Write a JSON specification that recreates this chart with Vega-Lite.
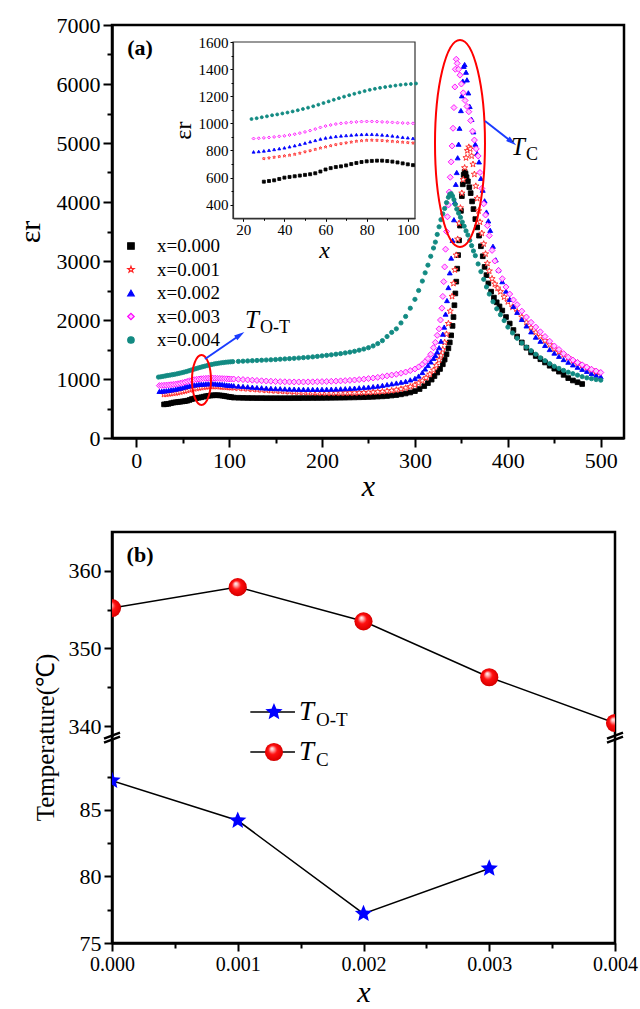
{
"$schema": "https://vega.github.io/schema/vega-lite/v6.json",
"background": "white",
"padding": {"left": 13, "top": 12, "right": 0, "bottom": 0},
"config": {
 "view": {"stroke": "black", "strokeWidth": 2.5},
 "axis": {"labelFont": "Liberation Serif", "titleFont": "Liberation Serif", "labelColor": "black", "titleColor": "black", "domainColor": "black", "tickColor": "black", "grid": false, "domainWidth": 2.5, "tickWidth": 2, "titleFontWeight": "normal", "labelFlush": false},
 "text": {"font": "Liberation Serif", "color": "black"}
},
"datasets": {
"tc": [{"x":0,"v":355.2},{"x":0.001,"v":357.9},{"x":0.002,"v":353.5},{"x":0.003,"v":346.3},{"x":0.004,"v":340.4}],
"tot": [{"x":0,"v":87.2},{"x":0.001,"v":84.2},{"x":0.002,"v":77.2},{"x":0.003,"v":80.6}],
"eps": [
{"s":0,"t":30,"e":570},{"s":0,"t":32.5,"e":575},{"s":0,"t":35,"e":580},{"s":0,"t":37.5,"e":590},{"s":0,"t":40,"e":600},{"s":0,"t":42.5,"e":605},{"s":0,"t":45,"e":610},{"s":0,"t":47.5,"e":615},{"s":0,"t":50,"e":620},{"s":0,"t":52.5,"e":625},{"s":0,"t":55,"e":632},{"s":0,"t":57.5,"e":645},{"s":0,"t":60,"e":660},{"s":0,"t":62.5,"e":670},{"s":0,"t":65,"e":678},{"s":0,"t":67.5,"e":683},{"s":0,"t":70,"e":690},{"s":0,"t":72.5,"e":700},{"s":0,"t":75,"e":708},{"s":0,"t":77.5,"e":715},{"s":0,"t":80,"e":720},{"s":0,"t":82.5,"e":723},{"s":0,"t":85,"e":725},{"s":0,"t":87.5,"e":725},{"s":0,"t":90,"e":722},{"s":0,"t":92.5,"e":718},{"s":0,"t":95,"e":712},{"s":0,"t":97.5,"e":705},{"s":0,"t":100,"e":698},{"s":0,"t":102.5,"e":692},{"s":0,"t":105,"e":685},
{"s":0,"t":110,"e":682},{"s":0,"t":115,"e":680},{"s":0,"t":120,"e":678},{"s":0,"t":125,"e":677},{"s":0,"t":130,"e":676},{"s":0,"t":135,"e":676},{"s":0,"t":140,"e":675},{"s":0,"t":145,"e":675},{"s":0,"t":150,"e":675},{"s":0,"t":155,"e":675},{"s":0,"t":160,"e":675},{"s":0,"t":165,"e":675},{"s":0,"t":170,"e":676},{"s":0,"t":175,"e":676},{"s":0,"t":180,"e":677},{"s":0,"t":185,"e":677},{"s":0,"t":190,"e":678},{"s":0,"t":195,"e":678},{"s":0,"t":200,"e":679},{"s":0,"t":205,"e":680},{"s":0,"t":210,"e":681},{"s":0,"t":215,"e":682},{"s":0,"t":220,"e":683},{"s":0,"t":225,"e":684},{"s":0,"t":230,"e":686},{"s":0,"t":235,"e":688},{"s":0,"t":240,"e":690},{"s":0,"t":245,"e":692},{"s":0,"t":250,"e":695},{"s":0,"t":255,"e":698},{"s":0,"t":260,"e":702},{"s":0,"t":265,"e":706},{"s":0,"t":270,"e":712},{"s":0,"t":275,"e":720},{"s":0,"t":280,"e":728},{"s":0,"t":285,"e":740},{"s":0,"t":290,"e":755},{"s":0,"t":295,"e":772},{"s":0,"t":300,"e":795},{"s":0,"t":305,"e":830},{"s":0,"t":310,"e":880},{"s":0,"t":314,"e":930},{"s":0,"t":318,"e":990},{"s":0,"t":321,"e":1050},{"s":0,"t":324,"e":1110},{"s":0,"t":327,"e":1170},{"s":0,"t":330,"e":1250},{"s":0,"t":332,"e":1330},{"s":0,"t":334,"e":1420},{"s":0,"t":336,"e":1520},{"s":0,"t":337.5,"e":1620},{"s":0,"t":339,"e":1740},{"s":0,"t":340.5,"e":1900},{"s":0,"t":341.5,"e":2050},{"s":0,"t":342.5,"e":2250},{"s":0,"t":343.5,"e":2450},{"s":0,"t":344.5,"e":2650},{"s":0,"t":345.5,"e":2870},{"s":0,"t":346.5,"e":3100},{"s":0,"t":347.5,"e":3350},{"s":0,"t":348.5,"e":3600},{"s":0,"t":349.5,"e":3850},{"s":0,"t":350.5,"e":4100},{"s":0,"t":351.5,"e":4300},{"s":0,"t":352.5,"e":4460},{"s":0,"t":353.5,"e":4510},{"s":0,"t":354.5,"e":4480},{"s":0,"t":355.5,"e":4420},{"s":0,"t":357,"e":4350},{"s":0,"t":358.5,"e":4250},{"s":0,"t":360,"e":4150},{"s":0,"t":361.5,"e":4010},{"s":0,"t":363,"e":3880},{"s":0,"t":365,"e":3710},{"s":0,"t":367,"e":3570},{"s":0,"t":369,"e":3430},{"s":0,"t":371,"e":3250},{"s":0,"t":373,"e":3080},{"s":0,"t":375,"e":2900},{"s":0,"t":377,"e":2760},{"s":0,"t":379,"e":2620},{"s":0,"t":382,"e":2480},{"s":0,"t":385,"e":2380},{"s":0,"t":388,"e":2300},{"s":0,"t":391,"e":2230},{"s":0,"t":394,"e":2160},{"s":0,"t":398,"e":2050},{"s":0,"t":402,"e":1940},{"s":0,"t":406,"e":1830},{"s":0,"t":410,"e":1720},{"s":0,"t":415,"e":1620},{"s":0,"t":420,"e":1530},{"s":0,"t":425,"e":1450},{"s":0,"t":430,"e":1390},{"s":0,"t":435,"e":1335},{"s":0,"t":440,"e":1280},{"s":0,"t":445,"e":1225},{"s":0,"t":450,"e":1175},{"s":0,"t":455,"e":1125},{"s":0,"t":460,"e":1070},{"s":0,"t":465,"e":1015},{"s":0,"t":470,"e":975},{"s":0,"t":475,"e":945},{"s":0,"t":480,"e":915},
{"s":1,"t":30,"e":740},{"s":1,"t":32.5,"e":745},{"s":1,"t":35,"e":750},{"s":1,"t":37.5,"e":755},{"s":1,"t":40,"e":760},{"s":1,"t":42.5,"e":765},{"s":1,"t":45,"e":772},{"s":1,"t":47.5,"e":780},{"s":1,"t":50,"e":790},{"s":1,"t":52.5,"e":798},{"s":1,"t":55,"e":808},{"s":1,"t":57.5,"e":818},{"s":1,"t":60,"e":826},{"s":1,"t":62.5,"e":835},{"s":1,"t":65,"e":843},{"s":1,"t":67.5,"e":850},{"s":1,"t":70,"e":856},{"s":1,"t":72.5,"e":862},{"s":1,"t":75,"e":868},{"s":1,"t":77.5,"e":872},{"s":1,"t":80,"e":875},{"s":1,"t":82.5,"e":876},{"s":1,"t":85,"e":875},{"s":1,"t":87.5,"e":873},{"s":1,"t":90,"e":870},{"s":1,"t":92.5,"e":867},{"s":1,"t":95,"e":864},{"s":1,"t":97.5,"e":861},{"s":1,"t":100,"e":858},{"s":1,"t":102.5,"e":855},{"s":1,"t":105,"e":852},
{"s":1,"t":110,"e":846},{"s":1,"t":115,"e":840},{"s":1,"t":120,"e":834},{"s":1,"t":125,"e":828},{"s":1,"t":130,"e":822},{"s":1,"t":135,"e":816},{"s":1,"t":140,"e":810},{"s":1,"t":145,"e":805},{"s":1,"t":150,"e":800},{"s":1,"t":155,"e":795},{"s":1,"t":160,"e":790},{"s":1,"t":165,"e":786},{"s":1,"t":170,"e":782},{"s":1,"t":175,"e":778},{"s":1,"t":180,"e":775},{"s":1,"t":185,"e":772},{"s":1,"t":190,"e":770},{"s":1,"t":195,"e":768},{"s":1,"t":200,"e":766},{"s":1,"t":205,"e":765},{"s":1,"t":210,"e":764},{"s":1,"t":215,"e":763},{"s":1,"t":220,"e":763},{"s":1,"t":225,"e":763},{"s":1,"t":230,"e":764},{"s":1,"t":235,"e":765},{"s":1,"t":240,"e":767},{"s":1,"t":245,"e":770},{"s":1,"t":250,"e":773},{"s":1,"t":255,"e":777},{"s":1,"t":260,"e":782},{"s":1,"t":265,"e":788},{"s":1,"t":270,"e":795},{"s":1,"t":275,"e":804},{"s":1,"t":280,"e":815},{"s":1,"t":285,"e":830},{"s":1,"t":290,"e":848},{"s":1,"t":295,"e":870},{"s":1,"t":300,"e":898},{"s":1,"t":304,"e":930},{"s":1,"t":308,"e":970},{"s":1,"t":312,"e":1020},{"s":1,"t":316,"e":1080},{"s":1,"t":320,"e":1150},{"s":1,"t":323,"e":1230},{"s":1,"t":326,"e":1320},{"s":1,"t":328,"e":1400},{"s":1,"t":330,"e":1500},{"s":1,"t":332,"e":1620},{"s":1,"t":334,"e":1760},{"s":1,"t":336,"e":1940},{"s":1,"t":338,"e":2150},{"s":1,"t":340,"e":2400},{"s":1,"t":341.5,"e":2620},{"s":1,"t":343,"e":2850},{"s":1,"t":344.5,"e":3100},{"s":1,"t":346,"e":3370},{"s":1,"t":347.5,"e":3640},{"s":1,"t":349,"e":3900},{"s":1,"t":350.5,"e":4150},{"s":1,"t":352,"e":4380},{"s":1,"t":353.5,"e":4580},{"s":1,"t":355,"e":4750},{"s":1,"t":356.5,"e":4870},{"s":1,"t":358,"e":4930},{"s":1,"t":359.5,"e":4900},{"s":1,"t":361,"e":4780},{"s":1,"t":362.5,"e":4640},{"s":1,"t":364,"e":4470},{"s":1,"t":365.5,"e":4270},{"s":1,"t":367,"e":4060},{"s":1,"t":368.5,"e":3850},{"s":1,"t":370,"e":3660},{"s":1,"t":372,"e":3470},{"s":1,"t":374,"e":3290},{"s":1,"t":376,"e":3120},{"s":1,"t":378,"e":2960},{"s":1,"t":380,"e":2830},{"s":1,"t":383,"e":2700},{"s":1,"t":386,"e":2610},{"s":1,"t":389,"e":2540},{"s":1,"t":392,"e":2480},{"s":1,"t":396,"e":2390},{"s":1,"t":400,"e":2310},{"s":1,"t":405,"e":2220},{"s":1,"t":410,"e":2140},{"s":1,"t":415,"e":2050},{"s":1,"t":420,"e":1960},{"s":1,"t":425,"e":1870},{"s":1,"t":430,"e":1790},{"s":1,"t":435,"e":1720},{"s":1,"t":440,"e":1650},{"s":1,"t":445,"e":1580},{"s":1,"t":450,"e":1510},{"s":1,"t":455,"e":1460},{"s":1,"t":460,"e":1410},{"s":1,"t":465,"e":1360},{"s":1,"t":470,"e":1310},{"s":1,"t":475,"e":1270},{"s":1,"t":480,"e":1230},{"s":1,"t":485,"e":1190},{"s":1,"t":490,"e":1155},{"s":1,"t":495,"e":1120},{"s":1,"t":498,"e":1100},
{"s":2,"t":25,"e":790},{"s":2,"t":27.5,"e":793},{"s":2,"t":30,"e":797},{"s":2,"t":32.5,"e":802},{"s":2,"t":35,"e":808},{"s":2,"t":37.5,"e":814},{"s":2,"t":40,"e":820},{"s":2,"t":42.5,"e":828},{"s":2,"t":45,"e":836},{"s":2,"t":47.5,"e":845},{"s":2,"t":50,"e":855},{"s":2,"t":52.5,"e":865},{"s":2,"t":55,"e":875},{"s":2,"t":57.5,"e":885},{"s":2,"t":60,"e":893},{"s":2,"t":62.5,"e":899},{"s":2,"t":65,"e":904},{"s":2,"t":67.5,"e":908},{"s":2,"t":70,"e":911},{"s":2,"t":72.5,"e":914},{"s":2,"t":75,"e":917},{"s":2,"t":77.5,"e":919},{"s":2,"t":80,"e":920},{"s":2,"t":82.5,"e":920},{"s":2,"t":85,"e":918},{"s":2,"t":87.5,"e":915},{"s":2,"t":90,"e":912},{"s":2,"t":92.5,"e":908},{"s":2,"t":95,"e":903},{"s":2,"t":97.5,"e":898},{"s":2,"t":100,"e":894},{"s":2,"t":102.5,"e":890},{"s":2,"t":105,"e":886},
{"s":2,"t":110,"e":880},{"s":2,"t":115,"e":874},{"s":2,"t":120,"e":868},{"s":2,"t":125,"e":862},{"s":2,"t":130,"e":856},{"s":2,"t":135,"e":851},{"s":2,"t":140,"e":846},{"s":2,"t":145,"e":842},{"s":2,"t":150,"e":838},{"s":2,"t":155,"e":835},{"s":2,"t":160,"e":832},{"s":2,"t":165,"e":830},{"s":2,"t":170,"e":828},{"s":2,"t":175,"e":826},{"s":2,"t":180,"e":825},{"s":2,"t":185,"e":824},{"s":2,"t":190,"e":824},{"s":2,"t":195,"e":824},{"s":2,"t":200,"e":825},{"s":2,"t":205,"e":826},{"s":2,"t":210,"e":828},{"s":2,"t":215,"e":830},{"s":2,"t":220,"e":833},{"s":2,"t":225,"e":836},{"s":2,"t":230,"e":840},{"s":2,"t":235,"e":845},{"s":2,"t":240,"e":850},{"s":2,"t":245,"e":856},{"s":2,"t":250,"e":863},{"s":2,"t":255,"e":871},{"s":2,"t":260,"e":880},{"s":2,"t":265,"e":892},{"s":2,"t":270,"e":905},{"s":2,"t":275,"e":918},{"s":2,"t":280,"e":932},{"s":2,"t":285,"e":945},{"s":2,"t":290,"e":960},{"s":2,"t":295,"e":985},{"s":2,"t":300,"e":1010},{"s":2,"t":304,"e":1050},{"s":2,"t":308,"e":1110},{"s":2,"t":311,"e":1170},{"s":2,"t":314,"e":1230},{"s":2,"t":317,"e":1290},{"s":2,"t":320,"e":1350},{"s":2,"t":322,"e":1400},{"s":2,"t":324,"e":1460},{"s":2,"t":326,"e":1530},{"s":2,"t":328,"e":1640},{"s":2,"t":330,"e":1760},{"s":2,"t":331.5,"e":1880},{"s":2,"t":333,"e":2100},{"s":2,"t":334.5,"e":2330},{"s":2,"t":336,"e":2550},{"s":2,"t":337.5,"e":2800},{"s":2,"t":339,"e":3050},{"s":2,"t":340.5,"e":3350},{"s":2,"t":342,"e":3700},{"s":2,"t":343,"e":4000},{"s":2,"t":344,"e":4300},{"s":2,"t":345,"e":4500},{"s":2,"t":346,"e":4750},{"s":2,"t":347,"e":4980},{"s":2,"t":348,"e":5250},{"s":2,"t":349.5,"e":5550},{"s":2,"t":350.5,"e":5800},{"s":2,"t":351.5,"e":6050},{"s":2,"t":352.5,"e":6300},{"s":2,"t":353.5,"e":6330},{"s":2,"t":355,"e":6200},{"s":2,"t":356,"e":6070},{"s":2,"t":357.5,"e":5850},{"s":2,"t":359,"e":5620},{"s":2,"t":361,"e":5400},{"s":2,"t":363,"e":5190},{"s":2,"t":365,"e":4980},{"s":2,"t":367,"e":4820},{"s":2,"t":369,"e":4680},{"s":2,"t":371,"e":4400},{"s":2,"t":373,"e":4200},{"s":2,"t":375,"e":4020},{"s":2,"t":377,"e":3830},{"s":2,"t":379,"e":3680},{"s":2,"t":381,"e":3520},{"s":2,"t":384,"e":3250},{"s":2,"t":387,"e":3020},{"s":2,"t":390,"e":2850},{"s":2,"t":394,"e":2650},{"s":2,"t":398,"e":2490},{"s":2,"t":402,"e":2350},{"s":2,"t":406,"e":2230},{"s":2,"t":410,"e":2130},{"s":2,"t":415,"e":2010},{"s":2,"t":420,"e":1900},{"s":2,"t":425,"e":1800},{"s":2,"t":430,"e":1710},{"s":2,"t":435,"e":1640},{"s":2,"t":440,"e":1570},{"s":2,"t":445,"e":1500},{"s":2,"t":450,"e":1440},{"s":2,"t":455,"e":1385},{"s":2,"t":460,"e":1330},{"s":2,"t":465,"e":1285},{"s":2,"t":470,"e":1240},{"s":2,"t":475,"e":1200},{"s":2,"t":480,"e":1165},{"s":2,"t":485,"e":1130},{"s":2,"t":490,"e":1095},{"s":2,"t":495,"e":1065},{"s":2,"t":500,"e":1040},
{"s":3,"t":25,"e":888},{"s":3,"t":27.5,"e":890},{"s":3,"t":30,"e":893},{"s":3,"t":32.5,"e":896},{"s":3,"t":35,"e":900},{"s":3,"t":37.5,"e":904},{"s":3,"t":40,"e":908},{"s":3,"t":42.5,"e":914},{"s":3,"t":45,"e":920},{"s":3,"t":47.5,"e":928},{"s":3,"t":50,"e":937},{"s":3,"t":52.5,"e":947},{"s":3,"t":55,"e":958},{"s":3,"t":57.5,"e":970},{"s":3,"t":60,"e":980},{"s":3,"t":62.5,"e":988},{"s":3,"t":65,"e":995},{"s":3,"t":67.5,"e":1000},{"s":3,"t":70,"e":1004},{"s":3,"t":72.5,"e":1008},{"s":3,"t":75,"e":1011},{"s":3,"t":77.5,"e":1013},{"s":3,"t":80,"e":1014},{"s":3,"t":82.5,"e":1014},{"s":3,"t":85,"e":1013},{"s":3,"t":87.5,"e":1011},{"s":3,"t":90,"e":1009},{"s":3,"t":92.5,"e":1007},{"s":3,"t":95,"e":1005},{"s":3,"t":97.5,"e":1003},{"s":3,"t":100,"e":1001},{"s":3,"t":102.5,"e":1000},{"s":3,"t":105,"e":999},
{"s":3,"t":110,"e":995},{"s":3,"t":115,"e":990},{"s":3,"t":120,"e":985},{"s":3,"t":125,"e":980},{"s":3,"t":130,"e":975},{"s":3,"t":135,"e":970},{"s":3,"t":140,"e":966},{"s":3,"t":145,"e":962},{"s":3,"t":150,"e":958},{"s":3,"t":155,"e":955},{"s":3,"t":160,"e":953},{"s":3,"t":165,"e":951},{"s":3,"t":170,"e":950},{"s":3,"t":175,"e":950},{"s":3,"t":180,"e":950},{"s":3,"t":185,"e":951},{"s":3,"t":190,"e":952},{"s":3,"t":195,"e":954},{"s":3,"t":200,"e":956},{"s":3,"t":205,"e":958},{"s":3,"t":210,"e":961},{"s":3,"t":215,"e":964},{"s":3,"t":220,"e":968},{"s":3,"t":225,"e":972},{"s":3,"t":230,"e":977},{"s":3,"t":235,"e":983},{"s":3,"t":240,"e":990},{"s":3,"t":245,"e":998},{"s":3,"t":250,"e":1007},{"s":3,"t":255,"e":1017},{"s":3,"t":260,"e":1028},{"s":3,"t":265,"e":1040},{"s":3,"t":270,"e":1053},{"s":3,"t":275,"e":1067},{"s":3,"t":280,"e":1080},{"s":3,"t":285,"e":1098},{"s":3,"t":290,"e":1118},{"s":3,"t":295,"e":1142},{"s":3,"t":300,"e":1170},{"s":3,"t":304,"e":1205},{"s":3,"t":308,"e":1250},{"s":3,"t":311,"e":1295},{"s":3,"t":314,"e":1345},{"s":3,"t":317,"e":1420},{"s":3,"t":320,"e":1530},{"s":3,"t":322,"e":1620},{"s":3,"t":324,"e":1740},{"s":3,"t":326,"e":1850},{"s":3,"t":327.5,"e":2000},{"s":3,"t":329,"e":2200},{"s":3,"t":330,"e":2400},{"s":3,"t":331,"e":2650},{"s":3,"t":332,"e":2900},{"s":3,"t":333,"e":3200},{"s":3,"t":334,"e":3500},{"s":3,"t":335,"e":3750},{"s":3,"t":336,"e":3950},{"s":3,"t":337,"e":4170},{"s":3,"t":338,"e":4420},{"s":3,"t":339,"e":4680},{"s":3,"t":340,"e":4950},{"s":3,"t":341,"e":5250},{"s":3,"t":342,"e":5600},{"s":3,"t":343,"e":5950},{"s":3,"t":343.5,"e":6250},{"s":3,"t":344.5,"e":6420},{"s":3,"t":345.5,"e":6350},{"s":3,"t":347,"e":6250},{"s":3,"t":348.5,"e":6150},{"s":3,"t":350,"e":6000},{"s":3,"t":352,"e":5850},{"s":3,"t":354,"e":5720},{"s":3,"t":356,"e":5620},{"s":3,"t":358,"e":5530},{"s":3,"t":360,"e":5380},{"s":3,"t":362,"e":5200},{"s":3,"t":364,"e":5050},{"s":3,"t":366,"e":4900},{"s":3,"t":368,"e":4780},{"s":3,"t":370,"e":4500},{"s":3,"t":372,"e":4230},{"s":3,"t":374,"e":3970},{"s":3,"t":376,"e":3780},{"s":3,"t":378,"e":3600},{"s":3,"t":380,"e":3430},{"s":3,"t":383,"e":3180},{"s":3,"t":386,"e":3000},{"s":3,"t":390,"e":2840},{"s":3,"t":394,"e":2700},{"s":3,"t":398,"e":2560},{"s":3,"t":402,"e":2440},{"s":3,"t":406,"e":2340},{"s":3,"t":410,"e":2260},{"s":3,"t":415,"e":2150},{"s":3,"t":420,"e":2050},{"s":3,"t":425,"e":1960},{"s":3,"t":430,"e":1880},{"s":3,"t":435,"e":1800},{"s":3,"t":440,"e":1720},{"s":3,"t":445,"e":1640},{"s":3,"t":450,"e":1560},{"s":3,"t":455,"e":1500},{"s":3,"t":460,"e":1430},{"s":3,"t":465,"e":1370},{"s":3,"t":470,"e":1320},{"s":3,"t":475,"e":1280},{"s":3,"t":480,"e":1240},{"s":3,"t":485,"e":1200},{"s":3,"t":490,"e":1165},{"s":3,"t":495,"e":1135},{"s":3,"t":500,"e":1110},
{"s":4,"t":24,"e":1032},{"s":4,"t":26.5,"e":1038},{"s":4,"t":29,"e":1045},{"s":4,"t":31.5,"e":1052},{"s":4,"t":34,"e":1060},{"s":4,"t":36.5,"e":1066},{"s":4,"t":39,"e":1073},{"s":4,"t":41.5,"e":1080},{"s":4,"t":44,"e":1088},{"s":4,"t":46.5,"e":1097},{"s":4,"t":49,"e":1106},{"s":4,"t":51.5,"e":1116},{"s":4,"t":54,"e":1126},{"s":4,"t":56.5,"e":1138},{"s":4,"t":59,"e":1150},{"s":4,"t":61.5,"e":1162},{"s":4,"t":64,"e":1174},{"s":4,"t":66.5,"e":1186},{"s":4,"t":69,"e":1197},{"s":4,"t":71.5,"e":1208},{"s":4,"t":74,"e":1218},{"s":4,"t":76.5,"e":1228},{"s":4,"t":79,"e":1238},{"s":4,"t":81.5,"e":1247},{"s":4,"t":84,"e":1255},{"s":4,"t":86.5,"e":1262},{"s":4,"t":89,"e":1268},{"s":4,"t":91.5,"e":1274},{"s":4,"t":94,"e":1279},{"s":4,"t":96.5,"e":1284},{"s":4,"t":99,"e":1288},{"s":4,"t":101.5,"e":1291},{"s":4,"t":104,"e":1294},
{"s":4,"t":110,"e":1298},{"s":4,"t":115,"e":1302},{"s":4,"t":120,"e":1306},{"s":4,"t":125,"e":1310},{"s":4,"t":130,"e":1314},{"s":4,"t":135,"e":1318},{"s":4,"t":140,"e":1322},{"s":4,"t":145,"e":1326},{"s":4,"t":150,"e":1330},{"s":4,"t":155,"e":1335},{"s":4,"t":160,"e":1340},{"s":4,"t":165,"e":1345},{"s":4,"t":170,"e":1350},{"s":4,"t":175,"e":1356},{"s":4,"t":180,"e":1362},{"s":4,"t":185,"e":1368},{"s":4,"t":190,"e":1375},{"s":4,"t":195,"e":1383},{"s":4,"t":200,"e":1392},{"s":4,"t":205,"e":1401},{"s":4,"t":210,"e":1410},{"s":4,"t":215,"e":1420},{"s":4,"t":220,"e":1430},{"s":4,"t":225,"e":1442},{"s":4,"t":230,"e":1455},{"s":4,"t":235,"e":1470},{"s":4,"t":240,"e":1488},{"s":4,"t":245,"e":1508},{"s":4,"t":250,"e":1530},{"s":4,"t":255,"e":1560},{"s":4,"t":260,"e":1600},{"s":4,"t":265,"e":1650},{"s":4,"t":270,"e":1720},{"s":4,"t":275,"e":1790},{"s":4,"t":280,"e":1850},{"s":4,"t":285,"e":1950},{"s":4,"t":290,"e":2060},{"s":4,"t":295,"e":2200},{"s":4,"t":300,"e":2350},{"s":4,"t":304,"e":2500},{"s":4,"t":308,"e":2660},{"s":4,"t":311,"e":2800},{"s":4,"t":314,"e":2930},{"s":4,"t":317,"e":3080},{"s":4,"t":320,"e":3220},{"s":4,"t":322,"e":3320},{"s":4,"t":324,"e":3450},{"s":4,"t":326,"e":3580},{"s":4,"t":328,"e":3700},{"s":4,"t":330,"e":3800},{"s":4,"t":332,"e":3890},{"s":4,"t":334,"e":3990},{"s":4,"t":336,"e":4080},{"s":4,"t":337.5,"e":4130},{"s":4,"t":339,"e":4140},{"s":4,"t":340.5,"e":4100},{"s":4,"t":342,"e":4040},{"s":4,"t":343.5,"e":3960},{"s":4,"t":345,"e":3880},{"s":4,"t":347,"e":3810},{"s":4,"t":349,"e":3740},{"s":4,"t":351,"e":3660},{"s":4,"t":353,"e":3590},{"s":4,"t":355,"e":3510},{"s":4,"t":357,"e":3440},{"s":4,"t":359,"e":3350},{"s":4,"t":361,"e":3260},{"s":4,"t":363,"e":3170},{"s":4,"t":365,"e":3090},{"s":4,"t":368,"e":2950},{"s":4,"t":371,"e":2820},{"s":4,"t":374,"e":2690},{"s":4,"t":377,"e":2560},{"s":4,"t":380,"e":2440},{"s":4,"t":384,"e":2310},{"s":4,"t":388,"e":2190},{"s":4,"t":392,"e":2090},{"s":4,"t":396,"e":1990},{"s":4,"t":400,"e":1880},{"s":4,"t":405,"e":1780},{"s":4,"t":410,"e":1690},{"s":4,"t":415,"e":1610},{"s":4,"t":420,"e":1540},{"s":4,"t":425,"e":1480},{"s":4,"t":430,"e":1420},{"s":4,"t":435,"e":1360},{"s":4,"t":440,"e":1310},{"s":4,"t":445,"e":1260},{"s":4,"t":450,"e":1215},{"s":4,"t":455,"e":1180},{"s":4,"t":460,"e":1145},{"s":4,"t":465,"e":1115},{"s":4,"t":470,"e":1090},{"s":4,"t":475,"e":1065},{"s":4,"t":480,"e":1040},{"s":4,"t":485,"e":1020},{"s":4,"t":490,"e":1005},{"s":4,"t":495,"e":990},{"s":4,"t":500,"e":980}
]
},
"spacing": 27,
"vconcat": [
{
 "width": 512, "height": 413,
 "resolve": {"scale": {"x": "independent", "y": "independent"}, "axis": {"x": "independent", "y": "independent"}},
 "layer": [
  {"data": {"values": [{}]}, "mark": {"type": "point", "opacity": 0},
   "encoding": {
    "x": {"datum": 0, "type": "quantitative", "scale": {"domain": [-26, 525], "nice": false, "zero": false}, "axis": {"orient": "bottom", "values": [50, 150, 250, 350, 450], "tickSize": 5, "labels": false, "domain": false, "title": null}},
    "y": {"datum": 0, "type": "quantitative", "scale": {"domain": [0, 7000], "nice": false, "zero": false}, "axis": {"orient": "left", "values": [500, 1500, 2500, 3500, 4500, 5500, 6500], "tickSize": 5, "labels": false, "domain": false, "title": null}}}},
  {"data": {"name": "eps"}, "mark": {"type": "point", "opacity": 1, "strokeWidth": 0.9},
   "encoding": {
    "x": {"field": "t", "type": "quantitative", "scale": {"domain": [-26, 525], "nice": false, "zero": false}, "axis": {"orient": "bottom", "values": [0, 100, 200, 300, 400, 500], "labelFontSize": 22, "tickSize": 9, "labelPadding": 3, "title": "x", "titleFontStyle": "italic", "titleFontSize": 30, "titlePadding": 0}},
    "y": {"field": "e", "type": "quantitative", "scale": {"domain": [0, 7000], "nice": false, "zero": false}, "axis": {"orient": "left", "values": [0, 1000, 2000, 3000, 4000, 5000, 6000, 7000], "format": "d", "labelFontSize": 22, "tickSize": 9, "labelPadding": 3, "title": "εr", "titleFontSize": 30, "titlePadding": 11}},
    "shape": {"field": "s", "type": "nominal", "scale": {"domain": [0, 1, 2, 3, 4], "range": ["square", "M0,-1L0.235,-0.324L0.951,-0.309L0.38,0.124L0.588,0.809L0,0.4L-0.588,0.809L-0.38,0.124L-0.951,-0.309L-0.235,-0.324Z", "triangle-up", "diamond", "circle"]}, "legend": null},
    "fill": {"field": "s", "type": "nominal", "scale": {"domain": [0, 1, 2, 3, 4], "range": ["#000000", "#ffffff", "#0000ff", "#ffc8ff", "#128a82"]}, "legend": null},
    "stroke": {"field": "s", "type": "nominal", "scale": {"domain": [0, 1, 2, 3, 4], "range": ["#000000", "#ff2020", "#0000ff", "#ff00ff", "#128a82"]}, "legend": null},
    "size": {"field": "s", "type": "quantitative", "scale": {"type": "threshold", "domain": [0.5, 1.5, 2.5, 3.5], "range": [22, 42, 24, 36, 18]}, "legend": null}}},
  {"data": {"name": "eps"}, "transform": [{"aggregate": [{"op": "count", "as": "n"}], "groupby": ["s"]}], "mark": {"type": "point", "opacity": 1, "size": 42, "strokeWidth": 1.2},
   "encoding": {
    "x": {"datum": -5.6, "type": "quantitative", "scale": {"domain": [-26, 525], "nice": false, "zero": false}, "axis": null},
    "y": {"field": "s", "type": "quantitative", "scale": {"domain": [0, 4], "range": [221, 315], "nice": false, "zero": false}, "axis": null},
    "shape": {"field": "s", "type": "nominal", "legend": null},
    "fill": {"field": "s", "type": "nominal", "legend": null},
    "stroke": {"field": "s", "type": "nominal", "legend": null}}},
  {"data": {"name": "eps"}, "transform": [{"aggregate": [{"op": "count", "as": "n"}], "groupby": ["s"]}, {"calculate": "'x=0.00' + datum.s", "as": "lab"}], "mark": {"type": "text", "font": "Liberation Serif", "fontSize": 19, "align": "left", "baseline": "middle"},
   "encoding": {
    "x": {"datum": 22.4, "type": "quantitative", "scale": {"domain": [-26, 525], "nice": false, "zero": false}, "axis": null},
    "y": {"field": "s", "type": "quantitative", "scale": {"domain": [0, 4], "range": [221, 315], "nice": false, "zero": false}, "axis": null},
    "text": {"field": "lab"}}},
  {"data": {"values": [{}]}, "mark": {"type": "rect", "fill": "white", "stroke": "#333333", "strokeWidth": 1.2},
   "encoding": {
    "x": {"datum": 15, "type": "quantitative", "scale": {"domain": [15, 103.5], "range": [121, 303], "nice": false, "zero": false}, "axis": {"orient": "bottom", "offset": -219.7, "values": [20, 40, 60, 80, 100], "labelFontSize": 15, "tickSize": 3, "labelPadding": 1, "domainWidth": 1.2, "domainColor": "#333333", "tickWidth": 1, "title": "x", "titleFontStyle": "italic", "titleFontSize": 24, "titlePadding": 1, "zindex": 1}},
    "x2": {"datum": 103.5},
    "y": {"datum": 300, "type": "quantitative", "scale": {"domain": [300, 1600], "range": [193.3, 17], "nice": false, "zero": false}, "axis": {"orient": "left", "offset": -121, "values": [400, 600, 800, 1000, 1200, 1400, 1600], "format": "d", "labelFontSize": 15, "tickSize": 3, "labelPadding": 2, "domainWidth": 1.2, "domainColor": "#333333", "tickWidth": 1, "title": "εr", "titleFontSize": 24, "titlePadding": 3, "zindex": 1}},
    "y2": {"datum": 1600}}},
  {"data": {"values": [{}]}, "mark": {"type": "point", "opacity": 0},
   "encoding": {
    "x": {"datum": 15, "type": "quantitative", "scale": {"domain": [15, 103.5], "range": [121, 303], "nice": false, "zero": false}, "axis": {"orient": "bottom", "offset": -219.7, "values": [30, 50, 70, 90], "tickSize": 2, "tickWidth": 1, "labels": false, "domain": false, "title": null, "zindex": 1}},
    "y": {"datum": 300, "type": "quantitative", "scale": {"domain": [300, 1600], "range": [193.3, 17], "nice": false, "zero": false}, "axis": {"orient": "left", "offset": -121, "values": [500, 700, 900, 1100, 1300, 1500], "tickSize": 2, "tickWidth": 1, "labels": false, "domain": false, "title": null, "zindex": 1}}}},
  {"data": {"name": "eps"}, "transform": [{"filter": "datum.t <= 104"}], "mark": {"type": "point", "opacity": 1, "size": 9, "strokeWidth": 0.8},
   "encoding": {
    "x": {"field": "t", "type": "quantitative", "scale": {"domain": [15, 103.5], "range": [121, 303], "nice": false, "zero": false}, "axis": null},
    "y": {"field": "e", "type": "quantitative", "scale": {"domain": [300, 1600], "range": [193.3, 17], "nice": false, "zero": false}, "axis": null},
    "shape": {"field": "s", "type": "nominal", "legend": null},
    "fill": {"field": "s", "type": "nominal", "legend": null},
    "stroke": {"field": "s", "type": "nominal", "legend": null}}},
  {"data": {"values": [{}]}, "mark": {"type": "point", "shape": "M0,-1A0.2415,1,0,0,1,0,1A0.2415,1,0,0,1,0,-1Z", "size": 42849, "filled": false, "stroke": "#ff0000", "strokeWidth": 2, "opacity": 1},
   "encoding": {"x": {"datum": 348.5, "type": "quantitative", "scale": {"domain": [-26, 525], "nice": false, "zero": false}, "axis": null}, "y": {"datum": 4992, "type": "quantitative", "scale": {"domain": [0, 7000], "nice": false, "zero": false}, "axis": null}}},
  {"data": {"values": [{}]}, "mark": {"type": "point", "shape": "M0,-1A0.38,1,0,0,1,0,1A0.38,1,0,0,1,0,-1Z", "size": 2500, "filled": false, "stroke": "#ff0000", "strokeWidth": 2, "opacity": 1},
   "encoding": {"x": {"datum": 70.3, "type": "quantitative", "scale": {"domain": [-26, 525], "nice": false, "zero": false}, "axis": null}, "y": {"datum": 983, "type": "quantitative", "scale": {"domain": [0, 7000], "nice": false, "zero": false}, "axis": null}}},
  {"data": {"values": [{"a": 375.4, "b": 5373, "c": 404.5, "d": 5017}, {"a": 74.1, "b": 1339, "c": 111.8, "d": 1746}]}, "mark": {"type": "rule", "color": "#1a3cff", "strokeWidth": 2},
   "encoding": {"x": {"field": "a", "type": "quantitative", "scale": {"domain": [-26, 525], "nice": false, "zero": false}, "axis": null}, "y": {"field": "b", "type": "quantitative", "scale": {"domain": [0, 7000], "nice": false, "zero": false}, "axis": null}, "x2": {"field": "c"}, "y2": {"field": "d"}}},
  {"data": {"values": [{"c": 404.5, "d": 5017, "g": 128}, {"c": 111.8, "d": 1746, "g": 55.6}]}, "mark": {"type": "point", "shape": "M0,-1L0.55,1L-0.55,1Z", "size": 110, "filled": true, "color": "#1a3cff", "opacity": 1},
   "encoding": {"x": {"field": "c", "type": "quantitative", "scale": {"domain": [-26, 525], "nice": false, "zero": false}, "axis": null}, "y": {"field": "d", "type": "quantitative", "scale": {"domain": [0, 7000], "nice": false, "zero": false}, "axis": null}, "angle": {"field": "g", "type": "quantitative", "scale": null}}},
  {"data": {"values": [{"a": 411, "b": 4932}, {"a": 124.7, "b": 2000}]}, "mark": {"type": "text", "text": "T", "font": "Liberation Serif", "fontStyle": "italic", "fontSize": 25, "align": "center", "baseline": "middle"},
   "encoding": {"x": {"field": "a", "type": "quantitative", "scale": {"domain": [-26, 525], "nice": false, "zero": false}, "axis": null}, "y": {"field": "b", "type": "quantitative", "scale": {"domain": [0, 7000], "nice": false, "zero": false}, "axis": null}}},
  {"data": {"values": [{"a": 411, "b": 4932, "k": "C"}, {"a": 124.7, "b": 2000, "k": "O-T"}]}, "mark": {"type": "text", "font": "Liberation Serif", "fontSize": 18, "align": "left", "baseline": "middle", "dx": 8, "dy": 8},
   "encoding": {"x": {"field": "a", "type": "quantitative", "scale": {"domain": [-26, 525], "nice": false, "zero": false}, "axis": null}, "y": {"field": "b", "type": "quantitative", "scale": {"domain": [0, 7000], "nice": false, "zero": false}, "axis": null}, "text": {"field": "k"}}},
  {"data": {"values": [{}]}, "mark": {"type": "text", "text": "(a)", "font": "Liberation Serif", "fontWeight": "bold", "fontSize": 22, "align": "center", "baseline": "middle"},
   "encoding": {"x": {"datum": 4.1, "type": "quantitative", "scale": {"domain": [-26, 525], "nice": false, "zero": false}, "axis": null}, "y": {"datum": 6610, "type": "quantitative", "scale": {"domain": [0, 7000], "nice": false, "zero": false}, "axis": null}}}
 ]
},
{
 "width": 503, "height": 411,
 "resolve": {"scale": {"y": "independent"}, "axis": {"x": "independent", "y": "independent"}},
 "layer": [
  {"data": {"name": "tc"}, "mark": {"type": "line", "color": "black", "strokeWidth": 1.5, "clip": true},
   "encoding": {
    "x": {"field": "x", "type": "quantitative", "scale": {"domain": [0, 0.004], "nice": false, "zero": false}, "axis": {"orient": "bottom", "values": [0, 0.001, 0.002, 0.003, 0.004], "format": ".3f", "labelFontSize": 20, "tickSize": 8, "labelPadding": 3, "title": "x", "titleFontStyle": "italic", "titleFontSize": 30, "titlePadding": 3}},
    "y": {"field": "v", "type": "quantitative", "scale": {"domain": [338.6, 365], "range": [205, 0], "nice": false, "zero": false}, "axis": {"orient": "left", "values": [340, 350, 360], "format": "d", "labelFontSize": 22, "tickSize": 8, "labelPadding": 3, "title": "Temperature(℃)", "titleFontSize": 25, "titleY": 205, "titlePadding": 10}}}},
  {"data": {"name": "tc"}, "mark": {"type": "point", "shape": "circle", "size": 330, "filled": true, "opacity": 1, "clip": true,
    "fill": {"gradient": "radial", "x1": 0.38, "y1": 0.3, "r1": 0, "x2": 0.5, "y2": 0.5, "r2": 0.55, "stops": [{"offset": 0, "color": "#ffffff"}, {"offset": 0.18, "color": "#ffb0b0"}, {"offset": 0.45, "color": "#ff1010"}, {"offset": 0.85, "color": "#e00000"}, {"offset": 1, "color": "#b80000"}]}},
   "encoding": {
    "x": {"field": "x", "type": "quantitative", "axis": null},
    "y": {"field": "v", "type": "quantitative", "scale": {"domain": [338.6, 365], "range": [205, 0], "nice": false, "zero": false}, "axis": null}}},
  {"data": {"name": "tot"}, "mark": {"type": "line", "color": "black", "strokeWidth": 1.5, "clip": true},
   "encoding": {
    "x": {"field": "x", "type": "quantitative", "axis": null},
    "y": {"field": "v", "type": "quantitative", "scale": {"domain": [75, 90.4], "range": [411, 206], "nice": false, "zero": false}, "axis": {"orient": "left", "values": [75, 80, 85], "format": "d", "labelFontSize": 22, "tickSize": 8, "labelPadding": 3, "title": null}}}},
  {"data": {"name": "tot"}, "mark": {"type": "point", "shape": "M0,-1L0.265,-0.364L0.951,-0.309L0.428,0.139L0.588,0.809L0,0.45L-0.588,0.809L-0.428,0.139L-0.951,-0.309L-0.265,-0.364Z", "size": 330, "filled": true, "color": "#0000ff", "opacity": 1, "clip": true},
   "encoding": {
    "x": {"field": "x", "type": "quantitative", "axis": null},
    "y": {"field": "v", "type": "quantitative", "scale": {"domain": [75, 90.4], "range": [411, 206], "nice": false, "zero": false}, "axis": null}}},
  {"data": {"values": [{}]}, "mark": {"type": "point", "opacity": 0},
   "encoding": {
    "x": {"datum": 0, "type": "quantitative", "axis": {"orient": "bottom", "values": [0.0005, 0.0015, 0.0025, 0.0035], "tickSize": 5, "labels": false, "domain": false, "title": null}},
    "y": {"datum": 340, "type": "quantitative", "scale": {"domain": [338.6, 365], "range": [205, 0], "nice": false, "zero": false}, "axis": {"orient": "left", "values": [345, 355], "tickSize": 5, "labels": false, "domain": false, "title": null}}}},
  {"data": {"values": [{}]}, "mark": {"type": "point", "opacity": 0},
   "encoding": {
    "x": {"datum": 0, "type": "quantitative", "axis": null},
    "y": {"datum": 80, "type": "quantitative", "scale": {"domain": [75, 90.4], "range": [411, 206], "nice": false, "zero": false}, "axis": {"orient": "left", "values": [77.5, 82.5, 87.5], "tickSize": 5, "labels": false, "domain": false, "title": null}}}},
  {"data": {"values": [{"x": 0}, {"x": 0.004}]}, "mark": {"type": "point", "shape": "M-1,0.2L1,-0.55M-1,0.7L1,-0.05", "size": 256, "filled": false, "stroke": "black", "strokeWidth": 2.5, "opacity": 1},
   "encoding": {
    "x": {"field": "x", "type": "quantitative", "axis": null},
    "y": {"datum": 338.6, "type": "quantitative", "scale": {"domain": [338.6, 365], "range": [205, 0], "nice": false, "zero": false}, "axis": null}}},
  {"data": {"values": [{"v": 341.82}, {"v": 336.67}]}, "mark": {"type": "rule", "color": "black", "strokeWidth": 1.5},
   "encoding": {
    "x": {"datum": 0.0011, "type": "quantitative", "axis": null},
    "x2": {"datum": 0.001455},
    "y": {"field": "v", "type": "quantitative", "scale": {"domain": [338.6, 365], "range": [205, 0], "nice": false, "zero": false}, "axis": null}}},
  {"data": {"values": [{}]}, "mark": {"type": "point", "shape": "M0,-1L0.265,-0.364L0.951,-0.309L0.428,0.139L0.588,0.809L0,0.45L-0.588,0.809L-0.428,0.139L-0.951,-0.309L-0.265,-0.364Z", "size": 330, "filled": true, "color": "#0000ff", "opacity": 1},
   "encoding": {
    "x": {"datum": 0.001288, "type": "quantitative", "axis": null},
    "y": {"datum": 341.82, "type": "quantitative", "scale": {"domain": [338.6, 365], "range": [205, 0], "nice": false, "zero": false}, "axis": null}}},
  {"data": {"values": [{}]}, "mark": {"type": "point", "shape": "circle", "size": 330, "filled": true, "opacity": 1,
    "fill": {"gradient": "radial", "x1": 0.38, "y1": 0.3, "r1": 0, "x2": 0.5, "y2": 0.5, "r2": 0.55, "stops": [{"offset": 0, "color": "#ffffff"}, {"offset": 0.18, "color": "#ffb0b0"}, {"offset": 0.45, "color": "#ff1010"}, {"offset": 0.85, "color": "#e00000"}, {"offset": 1, "color": "#b80000"}]}},
   "encoding": {
    "x": {"datum": 0.001288, "type": "quantitative", "axis": null},
    "y": {"datum": 336.67, "type": "quantitative", "scale": {"domain": [338.6, 365], "range": [205, 0], "nice": false, "zero": false}, "axis": null}}},
  {"data": {"values": [{"v": 341.82}, {"v": 336.67}]}, "mark": {"type": "text", "text": "T", "font": "Liberation Serif", "fontStyle": "italic", "fontSize": 27, "align": "left", "baseline": "middle"},
   "encoding": {
    "x": {"datum": 0.001487, "type": "quantitative", "axis": null},
    "y": {"field": "v", "type": "quantitative", "scale": {"domain": [338.6, 365], "range": [205, 0], "nice": false, "zero": false}, "axis": null}}},
  {"data": {"values": [{"v": 341.82, "k": "O-T"}, {"v": 336.67, "k": "C"}]}, "mark": {"type": "text", "font": "Liberation Serif", "fontSize": 19, "align": "left", "baseline": "middle", "dx": 17, "dy": 8},
   "encoding": {
    "x": {"datum": 0.001487, "type": "quantitative", "axis": null},
    "y": {"field": "v", "type": "quantitative", "scale": {"domain": [338.6, 365], "range": [205, 0], "nice": false, "zero": false}, "axis": null},
    "text": {"field": "k"}}},
  {"data": {"values": [{}]}, "mark": {"type": "text", "text": "(b)", "font": "Liberation Serif", "fontWeight": "bold", "fontSize": 22, "align": "center", "baseline": "middle"},
   "encoding": {
    "x": {"datum": 0.000223, "type": "quantitative", "axis": null},
    "y": {"datum": 362.04, "type": "quantitative", "scale": {"domain": [338.6, 365], "range": [205, 0], "nice": false, "zero": false}, "axis": null}}}
 ]
}
]
}
